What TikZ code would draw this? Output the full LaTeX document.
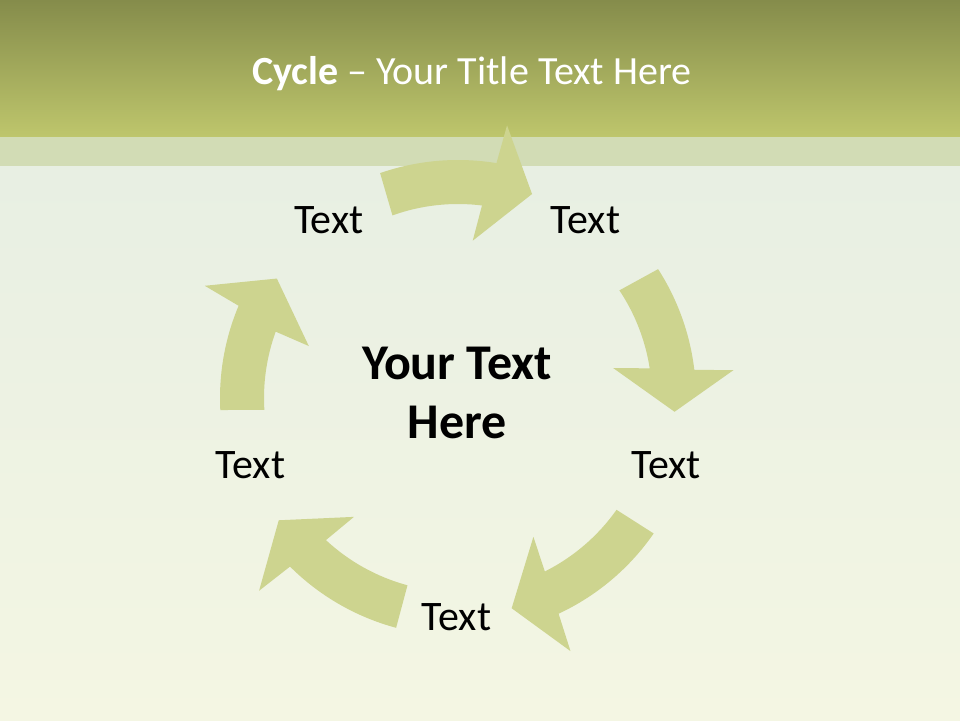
\documentclass[tikz,border=0pt]{standalone}
\usepackage{fontspec}
\setmainfont{Carlito}
\definecolor{bgtop}{HTML}{E4EDE3}
\definecolor{bgbot}{HTML}{F4F6E3}
\definecolor{bandtop}{HTML}{858C4B}
\definecolor{bandbot}{HTML}{BEC66C}
\definecolor{lightband}{HTML}{D2DCB5}
\definecolor{arrowgreen}{HTML}{CDD48F}
\newcommand\cycarrow[7]{%
  \fill[arrowfill] (#1:238pt) arc[start angle=#1, end angle=#3, radius=238pt]
    -- (#4:277pt) -- (#5:217pt) -- (#6:158pt) -- (#7:194pt)
    arc[start angle=#7, end angle=#2, radius=194pt] -- cycle;}
\tikzset{
  arrowfill/.style={fill=arrowgreen},
  lbl/.style={anchor=base, inner sep=0pt, text=black, font=\fontsize{42}{50}\selectfont},
  centertext/.style={anchor=base, inner sep=0pt, text=black, font=\fontsize{50}{59}\selectfont\bfseries},
  titletext/.style={anchor=base, inner sep=0pt, text=white, font=\fontsize{40}{48}\selectfont}
}
\begin{document}
\begin{tikzpicture}[x=1pt,y=1pt]
\useasboundingbox (0,0) rectangle (960,720);
% background
\shade[top color=bgtop, bottom color=bgbot] (0,0) rectangle (960,720);
\fill[lightband] (0,554) rectangle (960,583.3);
\shade[top color=bandtop, bottom color=bandbot] (0,583.3) rectangle (960,720);
% title
\node[titletext] (title) at (471.7,635) {\textbf{Cycle} – Your Title Text Here};
% arrows
\begin{scope}[shift={(458,322)}]
\cycarrow{109.1}{109.75}{80.7}{79.8}{70.05}{84.65}{82.9}
\cycarrow{32.78}{33.7}{6.77}{5.79}{-3.64}{10.94}{8.79}
\cycarrow{-34.7}{-35.2}{-65.0}{-66.04}{-75.68}{-61.5}{-63.4}
\cycarrow{-105.07}{-105.1}{-134.9}{-135.9}{-145.7}{-131.2}{-132.9}
\cycarrow{182.9}{183.5}{157.2}{156.1}{146.6}{160.8}{160.0}
\end{scope}
% labels
\node[lbl] (t1) at (328.8,486.7) {Text};
\node[lbl] (t2) at (585.5,486.7) {Text};
\node[lbl] (t3) at (666.3,241.7) {Text};
\node[lbl] (t4) at (456.5,89.3) {Text};
\node[lbl] (t5) at (250.5,241.7) {Text};
% centre
\node[centertext] (centre) at (457,340.7) {\begin{tabular}[t]{@{}c@{}}Your Text\\Here\end{tabular}};
\end{tikzpicture}
\end{document}
